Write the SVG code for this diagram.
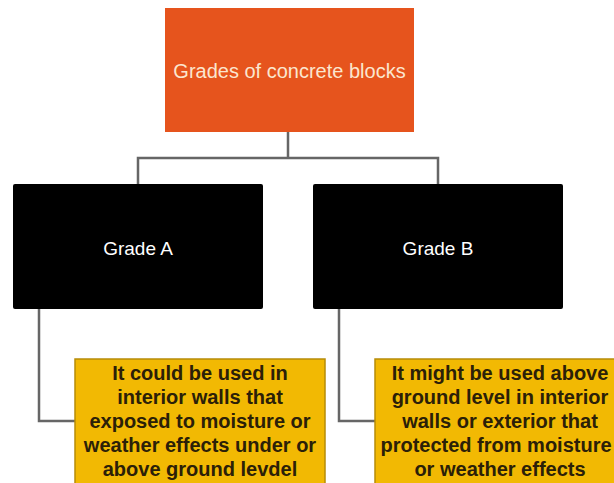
<svg xmlns="http://www.w3.org/2000/svg" width="614" height="483" viewBox="0 0 614 483">
<style>
.bg{fill:#ffffff}
.root{fill:#E6541D}
.grade{fill:#000000}
.note{fill:#F2B903;stroke:#B68C08;stroke-width:1.5}
.conn{fill:none;stroke:#666666;stroke-width:2.5}
.t-root{font-family:"Liberation Sans",Arial,sans-serif;font-size:20px;fill:#FBE6CF;text-anchor:middle}
.t-grade{font-family:"Liberation Sans",Arial,sans-serif;font-size:19px;fill:#ffffff;text-anchor:middle}
.t-note{font-family:"Liberation Sans",Arial,sans-serif;font-size:20px;font-weight:bold;fill:#2B2008;text-anchor:middle}
</style>
<rect class="bg" x="0" y="0" width="614" height="483"/>
<g id="connectors">
<path class="conn" d="M288 132 V158 M138 185 V158 H438 V185"/>
<path class="conn" d="M39 308 V421 H75"/>
<path class="conn" d="M339 308 V421 H375"/>
</g>
<g id="root">
<rect class="root" x="165" y="8" width="249" height="124"/>
<text class="t-root" x="289.5" y="78">Grades of concrete blocks</text>
</g>
<g id="gradeA">
<rect class="grade" x="13" y="184" width="250" height="125" rx="2"/>
<text class="t-grade" x="138" y="255">Grade A</text>
</g>
<g id="gradeB">
<rect class="grade" x="313" y="184" width="250" height="125" rx="2"/>
<text class="t-grade" x="438" y="255">Grade B</text>
</g>
<g id="noteA">
<rect class="note" x="75" y="359" width="250" height="130"/>
<text class="t-note" x="200" y="380">It could be used in</text>
<text class="t-note" x="200" y="404">interior walls that</text>
<text class="t-note" x="200" y="428">exposed to moisture or</text>
<text class="t-note" x="200" y="452">weather effects under or</text>
<text class="t-note" x="200" y="476">above ground levdel</text>
</g>
<g id="noteB">
<rect class="note" x="375" y="359" width="250" height="130"/>
<text class="t-note" x="500" y="380">It might be used above</text>
<text class="t-note" x="500" y="404">ground level in interior</text>
<text class="t-note" x="500" y="428">walls or exterior that</text>
<text class="t-note" x="496" y="452">protected from moisture</text>
<text class="t-note" x="500" y="476">or weather effects</text>
</g>
</svg>
